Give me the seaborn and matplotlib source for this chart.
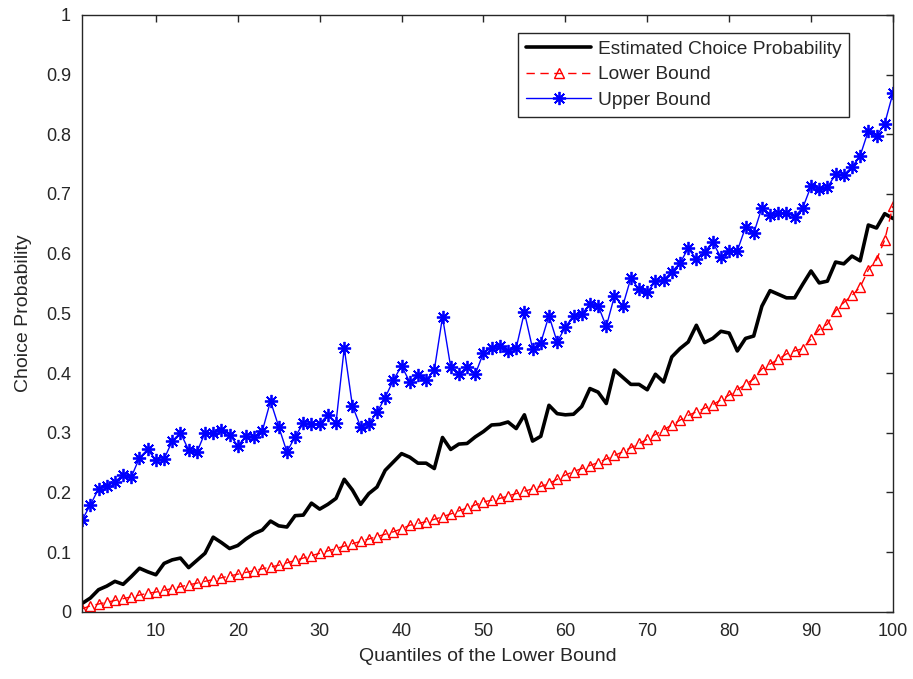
import numpy as np
import matplotlib
matplotlib.use("Agg")
import matplotlib.pyplot as plt
import seaborn as sns

# quantile index
quantiles = list(range(1, 101))

# estimated choice probability (black line)
estimate = [0.014, 0.023, 0.037, 0.043, 0.051, 0.046, 0.059, 0.073, 0.067, 0.062,
            0.081, 0.087, 0.090, 0.074, 0.086, 0.098, 0.125, 0.116, 0.106, 0.111,
            0.122, 0.131, 0.137, 0.152, 0.144, 0.142, 0.161, 0.162, 0.182, 0.172,
            0.180, 0.190, 0.222, 0.204, 0.180, 0.198, 0.209, 0.237, 0.251, 0.265,
            0.259, 0.249, 0.249, 0.240, 0.292, 0.272, 0.281, 0.282, 0.293, 0.302,
            0.313, 0.314, 0.318, 0.307, 0.330, 0.286, 0.294, 0.346, 0.332, 0.330,
            0.331, 0.344, 0.374, 0.368, 0.349, 0.405, 0.393, 0.381, 0.381, 0.372,
            0.398, 0.385, 0.427, 0.441, 0.452, 0.480, 0.451, 0.458, 0.470, 0.467,
            0.437, 0.458, 0.462, 0.512, 0.538, 0.532, 0.526, 0.526, 0.549, 0.571,
            0.551, 0.554, 0.586, 0.583, 0.596, 0.588, 0.648, 0.643, 0.667, 0.659]

# lower bound (red triangles)
lower = [0.005, 0.010, 0.013, 0.016, 0.019, 0.022, 0.025, 0.028, 0.031, 0.033,
         0.036, 0.039, 0.042, 0.045, 0.048, 0.051, 0.054, 0.057, 0.060, 0.063,
         0.066, 0.069, 0.072, 0.075, 0.078, 0.082, 0.086, 0.090, 0.094, 0.098,
         0.102, 0.106, 0.110, 0.114, 0.118, 0.122, 0.126, 0.130, 0.134, 0.139,
         0.145, 0.148, 0.151, 0.155, 0.159, 0.164, 0.169, 0.174, 0.179, 0.184,
         0.187, 0.190, 0.194, 0.198, 0.202, 0.206, 0.210, 0.215, 0.222, 0.229,
         0.235, 0.240, 0.245, 0.250, 0.256, 0.262, 0.268, 0.275, 0.282, 0.289,
         0.297, 0.305, 0.313, 0.321, 0.329, 0.335, 0.341, 0.347, 0.355, 0.363,
         0.372, 0.381, 0.390, 0.407, 0.415, 0.423, 0.432, 0.437, 0.441, 0.457,
         0.473, 0.482, 0.504, 0.518, 0.530, 0.544, 0.573, 0.590, 0.623, 0.680]

# upper bound (blue stars)
upper = [0.154, 0.179, 0.206, 0.210, 0.218, 0.229, 0.226, 0.258, 0.272, 0.254,
         0.256, 0.286, 0.300, 0.271, 0.267, 0.300, 0.300, 0.304, 0.297, 0.278,
         0.294, 0.293, 0.303, 0.353, 0.310, 0.268, 0.293, 0.316, 0.315, 0.315,
         0.330, 0.317, 0.442, 0.345, 0.310, 0.315, 0.334, 0.359, 0.388, 0.412,
         0.385, 0.397, 0.388, 0.405, 0.494, 0.410, 0.398, 0.410, 0.398, 0.434,
         0.442, 0.446, 0.437, 0.442, 0.502, 0.441, 0.451, 0.496, 0.452, 0.477,
         0.496, 0.499, 0.515, 0.513, 0.478, 0.529, 0.512, 0.559, 0.540, 0.535,
         0.554, 0.556, 0.570, 0.584, 0.609, 0.591, 0.603, 0.619, 0.594, 0.605,
         0.605, 0.644, 0.634, 0.677, 0.665, 0.668, 0.668, 0.662, 0.677, 0.713,
         0.708, 0.711, 0.733, 0.732, 0.745, 0.764, 0.806, 0.797, 0.818, 0.869]

xticks = [10, 20, 30, 40, 50, 60, 70, 80, 90, 100]
yticks = [0, 0.1, 0.2, 0.3, 0.4, 0.5, 0.6, 0.7, 0.8, 0.9, 1]
ytick_labels = ["0", "0.1", "0.2", "0.3", "0.4", "0.5", "0.6", "0.7", "0.8", "0.9", "1"]

sns.set_style("white")
plt.rcParams["font.family"] = ["Liberation Sans", "DejaVu Sans"]

gray = "#262626"
fig = plt.figure(figsize=(9.13, 6.79), dpi=100)
ax = fig.add_axes([0.090, 0.099, 0.888, 0.879])

sns.lineplot(x=quantiles, y=estimate, ax=ax, color="black", linewidth=2.6,
             label="Estimated Choice Probability")
sns.lineplot(x=quantiles, y=lower, ax=ax, color="red", linewidth=1.0,
             dashes=(6, 4), marker="^", markersize=7, markerfacecolor="none",
             markeredgecolor="red", markeredgewidth=1.0, label="Lower Bound")
sns.lineplot(x=quantiles, y=upper, ax=ax, color="blue", linewidth=1.0,
             marker=(8, 2, 0), markersize=9.5, markeredgecolor="blue",
             markeredgewidth=1.3, label="Upper Bound")

ax.set_xlim(1, 100)
ax.set_ylim(0, 1)
ax.set_xticks(xticks)
ax.set_yticks(yticks)
ax.set_yticklabels(ytick_labels)
ax.tick_params(direction="in", length=5, width=1, colors=gray, labelsize=13,
               top=True, right=True, pad=8)
for s in ax.spines.values():
    s.set_color(gray)
    s.set_linewidth(1.0)
    s.set_visible(True)

ax.set_xlabel("Quantiles of the Lower Bound", fontsize=14, color=gray, labelpad=6)
ax.set_ylabel("Choice Probability", fontsize=14, color=gray, labelpad=10)

leg = ax.legend(loc="upper right", bbox_to_anchor=(0.946, 0.970), borderaxespad=0,
                fontsize=13.8, handlelength=3.4, fancybox=False, framealpha=1,
                edgecolor=gray, borderpad=0.4, labelspacing=0.42, handletextpad=0.35)
leg.get_frame().set_linewidth(1.0)

fig.savefig("out.png", dpi=100)
